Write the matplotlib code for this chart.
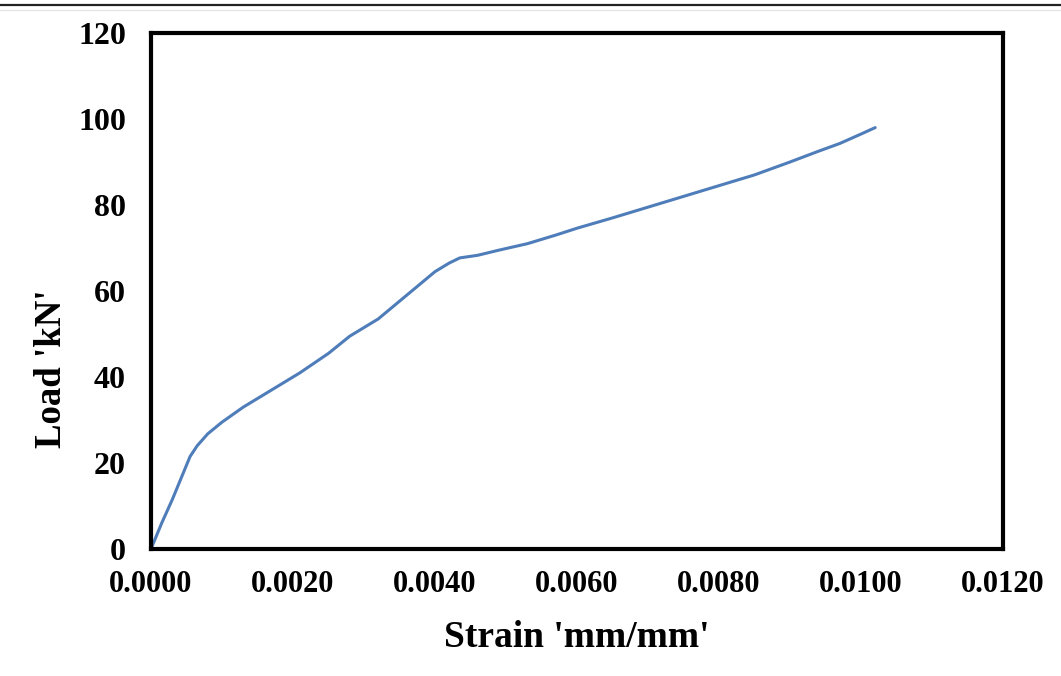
import numpy as np
import matplotlib.pyplot as plt
from matplotlib.lines import Line2D
from matplotlib.ticker import FormatStrFormatter

# load-strain readings
strain = [0.0, 0.00015, 0.0003, 0.00045, 0.00055, 0.00065, 0.0008, 0.0010,
          0.0013, 0.0017, 0.0021, 0.0025, 0.0028, 0.0032, 0.0036, 0.0040,
          0.0042, 0.00435, 0.0046, 0.0049, 0.0053, 0.0057, 0.0060, 0.0065,
          0.0070, 0.0075, 0.0080, 0.0085, 0.0090, 0.0094, 0.0097, 0.0100,
          0.0102]
load = [0.0, 6.0, 11.5, 17.5, 21.5, 24.0, 26.8, 29.5,
        33.0, 37.0, 41.0, 45.5, 49.5, 53.5, 59.0, 64.5,
        66.5, 67.7, 68.3, 69.5, 71.0, 73.0, 74.6, 77.0,
        79.5, 82.0, 84.5, 87.0, 90.0, 92.5, 94.3, 96.5,
        98.0]

x_ticks = [0.0, 0.002, 0.004, 0.006, 0.008, 0.010, 0.012]
y_ticks = [0, 20, 40, 60, 80, 100, 120]

plt.rcParams['font.family'] = ['Liberation Serif', 'DejaVu Serif']
plt.rcParams['font.weight'] = 'bold'

fig = plt.figure(figsize=(10.61, 6.76), dpi=100)
ax = fig.add_axes([151/1061, 1 - 549/676, 852/1061, 516/676])

ax.plot(strain, load, color='#4F7DBA', linewidth=2.2,
        solid_capstyle='round', solid_joinstyle='round')

ax.set_xlim(0, 0.012)
ax.set_ylim(0, 120)
ax.set_xticks(x_ticks)
ax.set_yticks(y_ticks)
ax.xaxis.set_major_formatter(FormatStrFormatter('%.4f'))

ax.tick_params(axis='x', length=0, pad=15, labelsize=22)
ax.tick_params(axis='y', length=0, pad=18, labelsize=23)
for lab in ax.get_xticklabels() + ax.get_yticklabels():
    lab.set_fontweight('bold')

for sp in ax.spines.values():
    sp.set_linewidth(3)
    sp.set_color('black')

ax.set_xlabel("Strain 'mm/mm'", fontsize=27, fontweight='bold')
ax.set_ylabel("Load 'kN'", fontsize=26.5, fontweight='bold')
ax.xaxis.set_label_coords(0.5, -0.137)
ax.yaxis.set_label_coords(-0.096, 0.35)

# rule across the top of the page
fig.add_artist(Line2D([0, 1], [1 - 5/676, 1 - 5/676], transform=fig.transFigure,
                      color='#222222', linewidth=1.6))
fig.add_artist(Line2D([0, 1], [1 - 10/676, 1 - 10/676], transform=fig.transFigure,
                      color='#e6e6e6', linewidth=1.0))

fig.savefig('out.png', dpi=100)
